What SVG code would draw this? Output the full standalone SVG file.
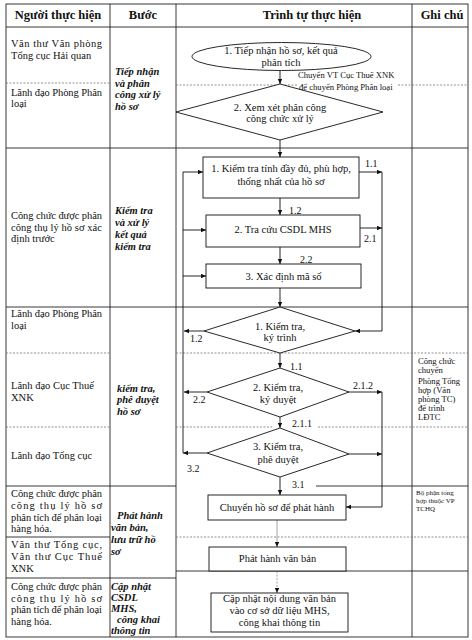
<svg xmlns="http://www.w3.org/2000/svg" width="472" height="640" viewBox="0 0 472 640">
<style>
text{font-family:"Liberation Serif","Times New Roman",serif;fill:#111}
.h{font-size:12.5px;font-weight:bold;text-anchor:middle}
.t{font-size:10.5px}
.c{font-size:10.5px;text-anchor:middle}
.b{font-size:10.5px;font-weight:bold;font-style:italic}
.l{font-size:10px}
.n{font-size:8.6px}
.s{font-size:7px}
.g{stroke:#222;stroke-width:0.9;fill:none}
.d{stroke:#777;stroke-width:0.8;stroke-dasharray:2 1.5;fill:none}
.shape{fill:#fff;stroke:#111;stroke-width:0.9}
.cn{stroke:#111;stroke-width:0.9;fill:none}
.cg{stroke:#999;stroke-width:0.9;fill:none}
</style>
<defs>
<marker id="a" markerWidth="6" markerHeight="5" refX="5" refY="2.2" orient="auto" markerUnits="userSpaceOnUse"><path d="M0,0 L5,2.2 L0,4.4 z" fill="#111"/></marker>
</defs>
<rect x="0" y="0" width="472" height="640" fill="#fff"/>
<g id="grid">
<rect x="6" y="4" width="462" height="633" class="g"/>
<line x1="110" y1="4" x2="110" y2="637" class="g"/>
<line x1="176" y1="4" x2="176" y2="637" class="g"/>
<line x1="412" y1="4" x2="412" y2="637" class="g"/>
<line x1="6" y1="27" x2="468" y2="27" class="g"/>
<line x1="6" y1="83" x2="110" y2="83" class="d"/>
<line x1="176" y1="85" x2="298" y2="85" class="d"/>
<line x1="398" y1="85" x2="468" y2="85" class="d"/>
<line x1="6" y1="148" x2="468" y2="148" class="g"/>
<line x1="6" y1="307" x2="468" y2="307" class="g"/>
<line x1="6" y1="353" x2="110" y2="353" class="d"/>
<line x1="176" y1="353" x2="468" y2="353" class="d"/>
<line x1="6" y1="427" x2="110" y2="427" class="d"/>
<line x1="176" y1="427" x2="272" y2="427" class="d"/>
<line x1="318" y1="427" x2="468" y2="427" class="d"/>
<line x1="6" y1="486" x2="176" y2="486" class="g"/>
<line x1="316" y1="486" x2="468" y2="486" class="g"/>
<line x1="6" y1="537" x2="110" y2="537" class="g"/>
<line x1="176" y1="537" x2="468" y2="537" class="d"/>
<line x1="176" y1="571" x2="468" y2="571" class="g"/>
<line x1="6" y1="578" x2="176" y2="578" class="g"/>
</g>
<g id="header">
<text class="h" x="58" y="19">Người thực hiện</text>
<text class="h" x="143" y="19">Bước</text>
<text class="h" x="312" y="19">Trình tự thực hiện</text>
<text class="h" x="442" y="19">Ghi chú</text>
</g>
<g id="actors">
<text class="t" x="11" y="47" textLength="91" lengthAdjust="spacing">Văn thư Văn phòng</text>
<text class="t" x="11" y="59">Tổng cục Hải quan</text>
<text class="t" x="11" y="96" textLength="91" lengthAdjust="spacing">Lãnh đạo Phòng Phân</text>
<text class="t" x="11" y="107">loại</text>
<text class="t" x="11" y="219" textLength="91" lengthAdjust="spacing">Công chức được phân</text>
<text class="t" x="11" y="231" textLength="91" lengthAdjust="spacing">công thụ lý hồ sơ xác</text>
<text class="t" x="11" y="242">định trước</text>
<text class="t" x="11" y="317" textLength="91" lengthAdjust="spacing">Lãnh đạo Phòng Phân</text>
<text class="t" x="11" y="329">loại</text>
<text class="t" x="11" y="389">Lãnh đạo Cục Thuế</text>
<text class="t" x="11" y="401">XNK</text>
<text class="t" x="11" y="459">Lãnh đạo Tổng cục</text>
<text class="t" x="11" y="497" textLength="91" lengthAdjust="spacing">Công chức được phân</text>
<text class="t" x="11" y="509" textLength="91" lengthAdjust="spacing">công thụ lý hồ sơ</text>
<text class="t" x="11" y="521" textLength="91" lengthAdjust="spacing">phân tích để phân loại</text>
<text class="t" x="11" y="532">hàng hóa.</text>
<text class="t" x="11" y="548" textLength="91" lengthAdjust="spacing">Văn thư Tổng cục,</text>
<text class="t" x="11" y="560" textLength="91" lengthAdjust="spacing">Văn thư Cục Thuế</text>
<text class="t" x="11" y="572">XNK</text>
<text class="t" x="11" y="590" textLength="91" lengthAdjust="spacing">Công chức được phân</text>
<text class="t" x="11" y="601.5" textLength="91" lengthAdjust="spacing">công thụ lý hồ sơ</text>
<text class="t" x="11" y="613" textLength="91" lengthAdjust="spacing">phân tích để phân loại</text>
<text class="t" x="11" y="624.5">hàng hóa.</text>
</g>
<g id="steps">
<text class="b" x="115" y="75">Tiếp nhận</text>
<text class="b" x="115" y="86.5">và phân</text>
<text class="b" x="115" y="98">công xử lý</text>
<text class="b" x="115" y="109.5">hồ sơ</text>
<text class="b" x="115" y="213.5">Kiểm tra</text>
<text class="b" x="115" y="225.5">và xử lý</text>
<text class="b" x="115" y="237.5">kết quả</text>
<text class="b" x="115" y="249.5">kiểm tra</text>
<text class="b" x="117" y="391.5">kiểm tra,</text>
<text class="b" x="117" y="403">phê duyệt</text>
<text class="b" x="117" y="414.5">hồ sơ</text>
<text class="b" x="117" y="518.5">Phát hành</text>
<text class="b" x="111" y="531">văn bản,</text>
<text class="b" x="111" y="543">lưu trữ hồ</text>
<text class="b" x="111" y="555">sơ</text>
<text class="b" x="111" y="590">Cập nhật</text>
<text class="b" x="111" y="601">CSDL</text>
<text class="b" x="111" y="612">MHS,</text>
<text class="b" x="117" y="623">công khai</text>
<text class="b" x="111" y="634">thông tin</text>
</g>
<g id="connectors">
<line x1="280" y1="70" x2="280" y2="84" class="cn" marker-end="url(#a)"/>
<line x1="280" y1="140" x2="280" y2="157" class="cn" marker-end="url(#a)"/>
<line x1="280" y1="198" x2="280" y2="215" class="cn" marker-end="url(#a)"/>
<line x1="280" y1="247" x2="280" y2="264" class="cn" marker-end="url(#a)"/>
<line x1="280" y1="288" x2="280" y2="307" class="cn" marker-end="url(#a)"/>
<line x1="280" y1="353" x2="280" y2="368" class="cn" marker-end="url(#a)"/>
<line x1="280" y1="417" x2="280" y2="428" class="cn" marker-end="url(#a)"/>
<line x1="280" y1="477" x2="280" y2="495" class="cn" marker-end="url(#a)"/>
<line x1="277" y1="520" x2="277" y2="547" class="cg" marker-end="url(#a)"/>
<line x1="277" y1="571" x2="277" y2="593" class="cg" stroke-dasharray="2 1.5" marker-end="url(#a)"/>
<line x1="359" y1="172" x2="382" y2="172" class="cn" marker-end="url(#a)"/>
<line x1="360" y1="228" x2="382" y2="228" class="cn" marker-end="url(#a)"/>
<polyline points="382,172 382,331 355,331" class="cn" marker-end="url(#a)"/>
<line x1="183" y1="172" x2="183" y2="453" class="cn"/>
<line x1="183" y1="172" x2="203" y2="172" class="cn" marker-end="url(#a)"/>
<line x1="183" y1="230" x2="206" y2="230" class="cn" marker-end="url(#a)"/>
<line x1="183" y1="276" x2="206" y2="276" class="cn" marker-end="url(#a)"/>
<line x1="204" y1="331" x2="184" y2="331" class="cn" marker-end="url(#a)"/>
<line x1="207" y1="392" x2="184" y2="392" class="cn" marker-end="url(#a)"/>
<line x1="207" y1="453" x2="183" y2="453" class="cn" marker-end="url(#a)"/>
<line x1="349" y1="392" x2="382" y2="392" class="cn" marker-end="url(#a)"/>
<line x1="349" y1="454" x2="382" y2="454" class="cn" marker-end="url(#a)"/>
<polyline points="382,392 382,507 346,507" class="cn" marker-end="url(#a)"/>
<text class="n" x="298" y="78">Chuyển VT Cục Thuế XNK</text>
<text class="n" x="299" y="90">để chuyển Phòng Phân loại</text>
<text class="l" x="365" y="167">1.1</text>
<text class="l" x="289" y="214">1.2</text>
<text class="l" x="364" y="242">2.1</text>
<text class="l" x="300" y="263">2.2</text>
<text class="l" x="190" y="342">1.2</text>
<text class="l" x="290" y="370">1.1</text>
<text class="l" x="193" y="403">2.2</text>
<text class="l" x="353" y="389">2.1.2</text>
<text class="l" x="292" y="427">2.1.1</text>
<text class="l" x="187" y="472">3.2</text>
<text class="l" x="292" y="488">3.1</text>
</g>
<g id="n-tiepnhan">
<ellipse cx="281.5" cy="56.5" rx="89.5" ry="14" class="shape"/>
<text class="c" x="281" y="53.5">1. Tiếp nhận hồ sơ, kết quả</text>
<text class="c" x="281" y="65.5">phân tích</text>
</g>
<g id="n-xemxet">
<polygon points="280,84 383,112 280,140 176,112" class="shape"/>
<text class="c" x="280" y="110.5">2. Xem xét phân công</text>
<text class="c" x="280" y="122">công chức xử lý</text>
</g>
<g id="n-kiemtra1">
<rect x="203" y="157" width="156" height="41" class="shape"/>
<text class="c" x="281" y="172">1. Kiểm tra tính đầy đủ, phù hợp,</text>
<text class="c" x="281" y="185">thống nhất của hồ sơ</text>
</g>
<g id="n-tracuu">
<rect x="206" y="215" width="154" height="32" class="shape"/>
<text class="c" x="283" y="233">2. Tra cứu CSDL MHS</text>
</g>
<g id="n-xacdinh">
<rect x="206" y="264" width="155" height="24" class="shape"/>
<text class="c" x="283.5" y="280">3. Xác định mã số</text>
</g>
<g id="n-kytrinh">
<polygon points="280,307 355,331 280,353 204,331" class="shape"/>
<text class="c" x="280" y="329.5">1. Kiểm tra,</text>
<text class="c" x="280" y="341">ký trình</text>
</g>
<g id="n-kyduyet">
<polygon points="280,368 349,392 280,417 207,392" class="shape"/>
<text class="c" x="278" y="390.5">2. Kiểm tra,</text>
<text class="c" x="278" y="402.5">ký duyệt</text>
</g>
<g id="n-pheduyet">
<polygon points="280,428 349,454 280,477 207,453" class="shape"/>
<text class="c" x="278" y="449.5">3. Kiểm tra,</text>
<text class="c" x="278" y="462.5">phê duyệt</text>
</g>
<g id="n-chuyen">
<rect x="208" y="495" width="138" height="25" class="shape"/>
<text class="c" x="277" y="511">Chuyển hồ sơ để phát hành</text>
</g>
<g id="n-phathanh">
<rect x="209" y="547" width="137" height="24" class="shape"/>
<text class="c" x="277.5" y="562">Phát hành văn bản</text>
</g>
<g id="n-capnhat">
<rect x="211" y="593" width="137" height="39" class="shape"/>
<text class="c" x="279.5" y="602">Cập nhật nội dung văn bản</text>
<text class="c" x="279.5" y="614">vào cơ sở dữ liệu MHS,</text>
<text class="c" x="279.5" y="626">công khai thông tin</text>
</g>
<g id="notes">
<text class="n" x="418" y="364">Công chức</text>
<text class="n" x="418" y="373">chuyển</text>
<text class="n" x="418" y="384">Phòng Tổng</text>
<text class="n" x="418" y="393">hợp (Văn</text>
<text class="n" x="418" y="402">phòng TC)</text>
<text class="n" x="418" y="411">để trình</text>
<text class="n" x="418" y="420">LĐTC</text>
<text class="s" x="416" y="495">Bộ phận tổng</text>
<text class="s" x="416" y="502.8">hợp thuộc VP</text>
<text class="s" x="416" y="510.6">TCHQ</text>
</g>
</svg>
